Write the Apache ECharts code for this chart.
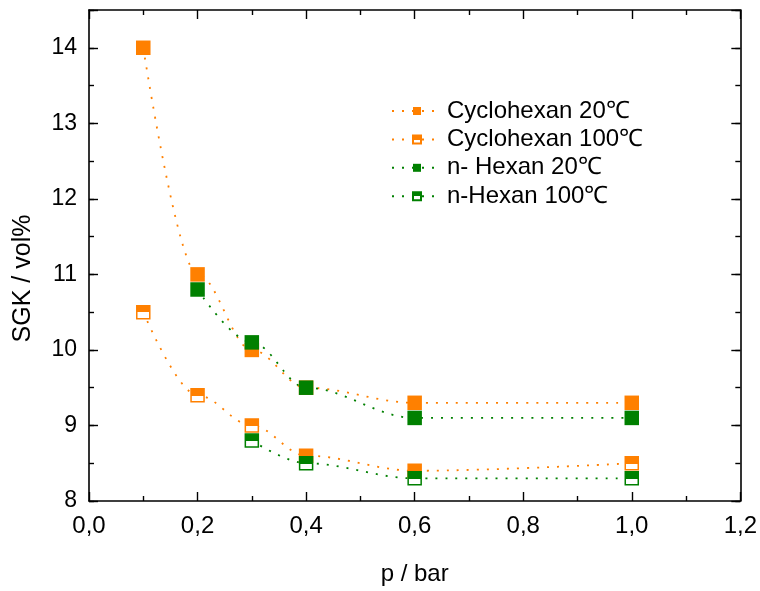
<!DOCTYPE html>
<html><head><meta charset="utf-8">
<script src="https://cdn.jsdelivr.net/npm/echarts@6/dist/echarts.min.js"></script>
<style>html,body{margin:0;padding:0;background:#fff}#c{width:760px;height:591px}</style>
</head><body><div id="c"></div>
<script>
const seriesNames = ['Cyclohexan 20℃', 'Cyclohexan 100℃', 'n- Hexan 20℃', 'n-Hexan 100℃'];
const cyclo20P = [0.1, 0.2, 0.3, 0.4, 0.6, 1.0];
const cyclo20V = [14.0, 11.0, 10.0, 9.5, 9.3, 9.3];
const cyclo100P = [0.1, 0.2, 0.3, 0.4, 0.6, 1.0];
const cyclo100V = [10.5, 9.4, 9.0, 8.6, 8.4, 8.5];
const hex20P = [0.2, 0.3, 0.4, 0.6, 1.0];
const hex20V = [10.8, 10.1, 9.5, 9.1, 9.1];
const hex100P = [0.3, 0.4, 0.6, 1.0];
const hex100V = [8.8, 8.5, 8.3, 8.3];
const xTickLabels = ['0,0', '0,2', '0,4', '0,6', '0,8', '1,0', '1,2'];
const yTickLabels = ['8', '9', '10', '11', '12', '13', '14'];

const ORANGE = '#ff8000', GREEN = '#008000';
const FONT = 'Liberation Sans, Arial, sans-serif';

function pairs(p, v) { return p.map((x, i) => [x, v[i]]); }
function halfFill(c) {
  return new echarts.graphic.LinearGradient(0, 0, 0, 1, [
    {offset: 0, color: c}, {offset: 0.52, color: c},
    {offset: 0.52, color: '#fff'}, {offset: 1, color: '#fff'}
  ]);
}
function mkSeries(name, p, v, color, half) {
  return {
    name: name, type: 'line', xAxisIndex: 0, yAxisIndex: 0,
    data: pairs(p, v),
    smooth: 0.35, smoothMonotone: 'x',
    symbol: 'rect', symbolSize: half ? 13 : 14.5,
    itemStyle: half ? {color: halfFill(color), borderColor: color, borderWidth: 1.5}
                    : {color: color, borderColor: color, borderWidth: 0},
    lineStyle: {color: color, width: 1.8, type: [2, 8]},
    emphasis: {disabled: true},
    animation: false
  };
}

const axisLineStyle = {color: '#000', width: 1.6};
function yAx(position, interval, len, labels, showLine) {
  return {
    type: 'value', position: position, min: 8, max: 14.5, interval: interval,
    axisLine: {show: showLine, lineStyle: axisLineStyle, onZero: false},
    axisTick: {show: true, inside: true, length: len, lineStyle: {color: '#000', width: 1.4}},
    axisLabel: {show: labels, fontSize: 23, fontFamily: FONT, color: '#000', margin: 12,
      formatter: v => (Math.abs(v - Math.round(v)) < 1e-6 ? yTickLabels[Math.round(v) - 8] : '')},
    splitLine: {show: false},
    name: labels ? 'SGK / vol%' : '',
    nameLocation: 'middle', nameGap: 53,
    nameTextStyle: {fontSize: 25, fontFamily: FONT, color: '#000', padding: [0, 46, 0, 0]}
  };
}
function xAx(position, labels) {
  return {
    type: 'value', position: position, min: 0, max: 1.2, interval: 0.2,
    axisLine: {show: true, lineStyle: axisLineStyle, onZero: false},
    axisTick: {show: true, inside: true, length: 9, lineStyle: {color: '#000', width: 1.4}},
    minorTick: {show: true, splitNumber: 2, length: 5, lineStyle: {color: '#000', width: 1.4}},
    axisLabel: {show: labels, fontSize: 24, fontFamily: FONT, color: '#000', margin: 13,
      formatter: v => xTickLabels[Math.round(v / 0.2)]},
    splitLine: {show: false}, minorSplitLine: {show: false},
    name: labels ? 'p / bar' : '', nameLocation: 'middle', nameGap: 61,
    nameTextStyle: {fontSize: 24, fontFamily: FONT, color: '#000'}
  };
}

const chart = echarts.init(document.getElementById('c'), null, {renderer: 'canvas'});
chart.setOption({
  backgroundColor: '#fff',
  animation: false,
  grid: {left: 89, right: 19, top: 10, bottom: 87, containLabel: false},
  xAxis: [xAx('bottom', true), xAx('top', false)],
  yAxis: [yAx('left', 1, 9, true, true), yAx('left', 0.5, 5, false, false),
          yAx('right', 1, 9, false, true), yAx('right', 0.5, 5, false, false)],
  legend: {
    orient: 'vertical', left: 386, top: 94,
    itemWidth: 50, itemHeight: 10, itemGap: 4.4,
    textStyle: {fontSize: 24, fontFamily: FONT, color: '#000'},
    data: seriesNames
  },
  series: [
    mkSeries(seriesNames[0], cyclo20P, cyclo20V, ORANGE, false),
    mkSeries(seriesNames[1], cyclo100P, cyclo100V, ORANGE, true),
    mkSeries(seriesNames[2], hex20P, hex20V, GREEN, false),
    mkSeries(seriesNames[3], hex100P, hex100V, GREEN, true)
  ]
});
</script></body></html>
